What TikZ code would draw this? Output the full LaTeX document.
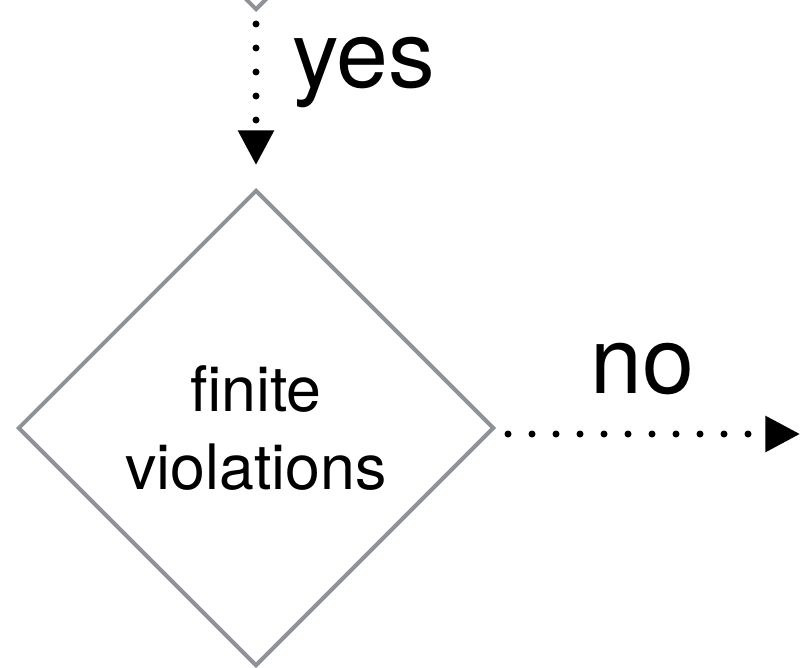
\documentclass[tikz,border=0pt]{standalone}
\usepackage{fontspec}
\setmainfont{TeX Gyre Heros}
\usetikzlibrary{arrows.meta,positioning,shapes.geometric}
\definecolor{edgegray}{RGB}{142,145,150}

\begin{document}
\begin{tikzpicture}[x=0.75pt, y=-0.75pt,
  decision/.style={draw=edgegray, line width=3pt, shape=diamond, aspect=1,
    minimum width=357pt, minimum height=357pt, align=center,
    font=\fontsize{47}{58.5}\selectfont},
  lbl/.style={font=\fontsize{70}{84}\selectfont, inner sep=0pt},
  flow/.style={-{Triangle[length=26pt, width=26pt]}, line width=5.25pt,
    line cap=round, dash pattern=on 0pt off 18pt,
    shorten <=9pt, shorten >=17.25pt}
]
\useasboundingbox (0,0) rectangle (802,667);
\clip (0,0) rectangle (802,667);

% previous test, only its lower tip shows
\node[decision] (prev) at (256,-228) {};
\node[decision] (viol) at (256,428) {finite\\violations};

\coordinate (out) at (800,434);

\draw[flow] (prev.south) -- (viol.north);
\draw[flow, shorten >=0pt] (viol.east |- out) -- (out);

\node[lbl, anchor=base west] (yes) at (292,88) {yes};
\node[lbl, anchor=base] (no) at (642,393) {no};

\end{tikzpicture}
\end{document}
